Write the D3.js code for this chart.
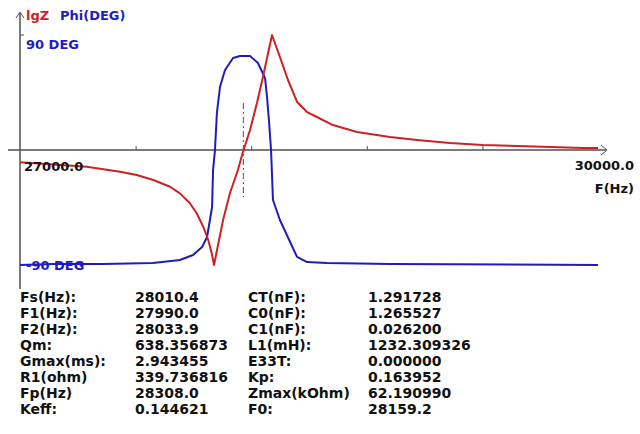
<!DOCTYPE html>
<html>
<head>
<meta charset="utf-8">
<script src="https://cdn.jsdelivr.net/npm/d3@7"></script>
<style>
  html, body { margin: 0; padding: 0; background: #fff; }
  svg { display: block; }
  text { font-family: "DejaVu Sans", sans-serif; font-weight: bold; font-size: 13px; }
  .param { font-size: 14px; }
</style>
</head>
<body>
<svg id="chart" width="640" height="434"></svg>
<script>
// ---------- data ----------
const lgzFreq = [27000, 27346, 27519, 27606, 27692, 27779, 27830, 27882, 27917, 27951, 27977, 27995, 28007,
  28054, 28090, 28131, 28157, 28194, 28230, 28261, 28308, 28349, 28391, 28438, 28490, 28541,
  28624, 28749, 28920, 29061, 29232, 29403, 29580, 29751, 29922, 30000];
const lgzValues = [3.541, 3.498, 3.449, 3.417, 3.367, 3.301, 3.236, 3.138, 3.040, 2.908, 2.777, 2.646, 2.531,
  2.974, 3.239, 3.466, 3.643, 3.859, 4.125, 4.381, 4.794, 4.577, 4.351, 4.135, 4.036, 3.987,
  3.908, 3.840, 3.790, 3.761, 3.731, 3.712, 3.702, 3.692, 3.682, 3.682];

const phiFreq = [27000, 27171, 27431, 27690, 27830, 27898, 27945, 27971, 27997, 28002, 28012, 28022,
  28038, 28064, 28106, 28142, 28194, 28235, 28272, 28282, 28292, 28303, 28313, 28349, 28438,
  28490, 28593, 28920, 30000];
const phiValues = [-90.0, -89.2, -89.2, -88.4, -86.1, -82.2, -75.9, -68.1, -44.6, -15.7, 0, 29.0,
  49.3, 62.6, 72.0, 73.6, 73.6, 68.1, 56.3, 41.5, 23.5, 0, -39.1, -54.8, -83.7,
  -87.7, -88.4, -89.2, -90.0];

const xDomain = [27000, 30000];
const xTickValues = [27600, 28200, 28800, 29400];
const xEndLabels = ["27000.0", "30000.0"];
const phiDomain = [-90, 90];
const phiLabels = ["90 DEG", "-90 DEG"];
const lgzDomain = [Math.log10(339.736816), Math.log10(62190.990)];
const markerF0 = 28159.2;

const paramLabelsL = ["Fs(Hz):", "F1(Hz):", "F2(Hz):", "Qm:", "Gmax(ms):", "R1(ohm)", "Fp(Hz)", "Keff:"];
const paramValuesL = ["28010.4", "27990.0", "28033.9", "638.356873", "2.943455", "339.736816", "28308.0", "0.144621"];
const paramLabelsR = ["CT(nF):", "C0(nF):", "C1(nF):", "L1(mH):", "E33T:", "Kp:", "Zmax(kOhm)", "F0:"];
const paramValuesR = ["1.291728", "1.265527", "0.026200", "1232.309326", "0.000000", "0.163952", "62.190990", "28159.2"];

// ---------- chart ----------
const RED = "#cc2222", BLUE = "#1c1cc0", AXIS = "#505050";
const svg = d3.select("#chart");

const x = d3.scaleLinear().domain(xDomain).range([20, 598]);
const yPhi = d3.scaleLinear().domain(phiDomain).range([265, 35]);
const yLgz = d3.scaleLinear().domain(lgzDomain).range([265, 35]);
const y0 = yPhi(0);

// axes
svg.append("line").attr("x1", 8).attr("x2", 606).attr("y1", y0).attr("y2", y0)
  .attr("stroke", AXIS).attr("stroke-width", 1.5);
svg.append("path").attr("d", `M601,${y0 - 5}L607,${y0}L601,${y0 + 5}`)
  .attr("fill", "none").attr("stroke", AXIS).attr("stroke-width", 1);
svg.append("line").attr("x1", 20).attr("x2", 20).attr("y1", 13).attr("y2", 289)
  .attr("stroke", AXIS).attr("stroke-width", 1.5);
svg.append("path").attr("d", "M16,18L20,12L24,18")
  .attr("fill", "none").attr("stroke", AXIS).attr("stroke-width", 1);

const xAxis = d3.axisTop(x).tickValues(xTickValues).tickSize(4).tickFormat("");
const gx = svg.append("g").attr("transform", `translate(0,${y0})`).call(xAxis);
gx.select(".domain").remove();
gx.selectAll(".tick line").attr("stroke", AXIS);

svg.append("line").attr("x1", 20).attr("x2", 24).attr("y1", yPhi(90)).attr("y2", yPhi(90))
  .attr("stroke", AXIS).attr("stroke-width", 1);

// curves
const lgzData = lgzFreq.map((f, i) => ({ f, v: lgzValues[i] }));
const phiData = phiFreq.map((f, i) => ({ f, v: phiValues[i] }));

// F0 marker
svg.append("line").attr("x1", x(markerF0)).attr("x2", x(markerF0))
  .attr("y1", 103).attr("y2", 197)
  .attr("stroke", "#a03048").attr("stroke-width", 1).attr("stroke-dasharray", "6,3,2,3");

svg.append("path").datum(phiData)
  .attr("d", d3.line().x(d => x(d.f)).y(d => yPhi(d.v)))
  .attr("fill", "none").attr("stroke", BLUE).attr("stroke-width", 2).attr("stroke-linejoin", "round");

svg.append("path").datum(lgzData)
  .attr("d", d3.line().x(d => x(d.f)).y(d => yLgz(d.v)))
  .attr("fill", "none").attr("stroke", RED).attr("stroke-width", 2).attr("stroke-linejoin", "round");

// labels
svg.append("text").attr("x", 26).attr("y", 20).attr("fill", RED).text("lgZ");
svg.append("text").attr("x", 60).attr("y", 20).attr("fill", BLUE).text("Phi(DEG)");
svg.append("text").attr("x", 26).attr("y", 49).attr("fill", BLUE).text(phiLabels[0]);
svg.append("text").attr("x", 26).attr("y", 270).attr("fill", BLUE).text(phiLabels[1]);
svg.append("text").attr("x", 24).attr("y", 171).attr("fill", "#111").text(xEndLabels[0]);
svg.append("text").attr("x", 634).attr("y", 170).attr("fill", "#111").attr("text-anchor", "end").text(xEndLabels[1]);
svg.append("text").attr("x", 634).attr("y", 193).attr("fill", "#111").attr("text-anchor", "end").text("F(Hz)");

// parameter table
const rowY = i => 302 + i * 16;
const cols = [
  { x: 20, arr: paramLabelsL }, { x: 135, arr: paramValuesL },
  { x: 248, arr: paramLabelsR }, { x: 368, arr: paramValuesR }
];
cols.forEach(c => {
  svg.append("g").selectAll("text").data(c.arr).join("text")
    .attr("class", "param")
    .attr("x", c.x).attr("y", (d, i) => rowY(i)).attr("fill", "#111").text(d => d);
});
</script>
</body>
</html>
